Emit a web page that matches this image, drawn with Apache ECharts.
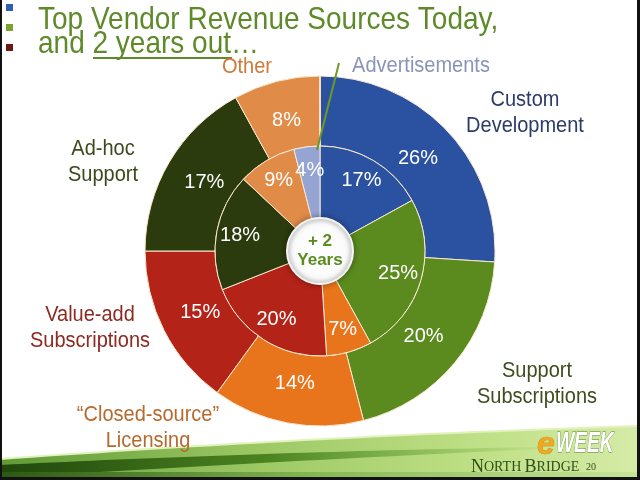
<!DOCTYPE html>
<html>
<head>
<meta charset="utf-8">
<script src="https://cdn.jsdelivr.net/npm/echarts@6/dist/echarts.min.js"></script>
<style>
  html, body { margin: 0; padding: 0; background: #fff; }
  #chart { width: 640px; height: 480px; }
</style>
</head>
<body>
<div id="chart"></div>
<script>
// revenue categories, clockwise from 12 o'clock
const categories = [
  'Custom Development',
  'Support Subscriptions',
  '“Closed-source” Licensing',
  'Value-add Subscriptions',
  'Ad-hoc Support',
  'Other',
  'Advertisements'
]
const todayValues = [26, 20, 14, 15, 17, 8, 0]     // outer ring
const twoYearValues = [17, 25, 7, 20, 18, 9, 4]    // inner ring (+2 years)
const sliceColors = ['#2a52a0', '#5b8b1f', '#e8741b', '#b32318', '#2b3b0d', '#e08c48', '#95a4d2']
const labelColors = ['#2c3b6a', '#3e4e20', '#b66a2e', '#8e2a22', '#3a4a1c', '#d07a3a', '#8a94ba']

const CX = 320
const CY = 251
const font = 'Liberation Sans, Arial, sans-serif'

// move pie labels a bit along the radius
function radialShift(k) {
  return function (params) {
    const r = params.labelRect
    const lx = r.x + r.width / 2
    const ly = r.y + r.height / 2
    return {
      x: CX + (lx - CX) * k,
      y: CY + (ly - CY) * k,
      align: 'center',
      verticalAlign: 'middle'
    }
  }
}

function curvePts(x0, y0, cx, cy, x1, y1, n) {
  const pts = []
  for (let i = 0; i <= n; i++) {
    const t = i / n
    pts.push([
      (1 - t) * (1 - t) * x0 + 2 * (1 - t) * t * cx + t * t * x1,
      (1 - t) * (1 - t) * y0 + 2 * (1 - t) * t * cy + t * t * y1
    ])
  }
  return pts
}

const washTop = curvePts(0, 459, 320, 436, 640, 426, 40)
const stripeTop = curvePts(0, 465, 260, 452, 540, 447, 40)
const stripeBot = curvePts(0, 478, 260, 462, 540, 449, 40).reverse()

// category label placement (slide layout)
const catLabelPos = [
  [525, 101], [537, 372], [148, 416], [90, 316], [103, 150], [247, 67], [421, 66]
]
const catLabelText = [
  'Custom\nDevelopment', 'Support\nSubscriptions', '“Closed-source”\nLicensing',
  'Value-add\nSubscriptions', 'Ad-hoc\nSupport', 'Other', 'Advertisements'
]

function catLabels() {
  return categories.map((name, i) => {
    const text = catLabelText[i]
    const twoLine = text.indexOf('\n') >= 0
    return {
      type: 'text',
      x: catLabelPos[i][0],
      y: catLabelPos[i][1] + (twoLine ? 12 : 0),
      z: 20,
      scaleY: 1.08,
      style: {
        text: text,
        font: '20px ' + font,
        lineHeight: 24,
        fill: labelColors[i],
        align: 'center',
        verticalAlign: 'middle'
      }
    }
  })
}

const chart = echarts.init(document.getElementById('chart'), null, { renderer: 'canvas' })

const option = {
  backgroundColor: '#ffffff',
  animation: false,
  graphic: [
    // bottom swoosh
    {
      type: 'polygon', z: 0,
      shape: { points: washTop.concat([[640, 480], [0, 480]]) },
      style: {
        fill: {
          type: 'linear', x: 0, y: 0, x2: 1, y2: 0,
          colorStops: [
            { offset: 0, color: '#5f9a35' },
            { offset: 0.4, color: '#9cc864' },
            { offset: 0.75, color: '#bfe086' },
            { offset: 1, color: '#d6eba8' }
          ]
        }
      }
    },
    {
      type: 'polyline', z: 1,
      shape: { points: washTop },
      style: { stroke: '#e2f2bd', lineWidth: 2, fill: null }
    },
    {
      type: 'polygon', z: 1,
      shape: { points: stripeTop.concat(stripeBot) },
      style: {
        fill: {
          type: 'linear', x: 0, y: 0, x2: 1, y2: 0,
          colorStops: [
            { offset: 0, color: '#1f470b' },
            { offset: 0.5, color: '#4c8421' },
            { offset: 1, color: 'rgba(120,180,70,0.1)' }
          ]
        }
      }
    },
    {
      type: 'rect', z: 1,
      shape: { x: 0, y: 472, width: 640, height: 5 },
      style: {
        fill: {
          type: 'linear', x: 0, y: 0, x2: 1, y2: 0,
          colorStops: [
            { offset: 0, color: '#2a5812' },
            { offset: 0.5, color: '#86b955' },
            { offset: 1, color: '#c8e49a' }
          ]
        }
      }
    },
    // frame
    { type: 'rect', z: 30, shape: { x: 0, y: 0, width: 2, height: 480 }, style: { fill: '#111' } },
    { type: 'rect', z: 30, shape: { x: 637, y: 0, width: 3, height: 480 }, style: { fill: '#111' } },
    { type: 'rect', z: 30, shape: { x: 0, y: 477, width: 640, height: 3 }, style: { fill: '#111' } },
    // bullets
    { type: 'rect', z: 20, shape: { x: 6, y: 4, width: 7, height: 7 }, style: { fill: '#2f5fb0' } },
    { type: 'rect', z: 20, shape: { x: 6, y: 24, width: 7, height: 7 }, style: { fill: '#7aa32c' } },
    { type: 'rect', z: 20, shape: { x: 6, y: 44, width: 7, height: 7 }, style: { fill: '#6a1a12' } },
    // title
    {
      type: 'text', z: 20, x: 38, y: 20, scaleY: 1.15,
      style: {
        text: 'Top Vendor Revenue Sources Today,',
        font: '28px ' + font, fill: '#5e8a2a', verticalAlign: 'middle'
      }
    },
    {
      type: 'text', z: 20, x: 38, y: 44, scaleY: 1.15,
      style: {
        text: 'and 2 years out…',
        font: '28px ' + font, fill: '#5e8a2a', verticalAlign: 'middle'
      }
    },
    {
      type: 'line', z: 20,
      shape: { x1: 93, y1: 58, x2: 232, y2: 58 },
      style: { stroke: '#5e8a2a', lineWidth: 2 }
    },
    // leader line to Advertisements
    {
      type: 'line', z: 20,
      shape: { x1: 339, y1: 63, x2: 317, y2: 150 },
      style: { stroke: '#6a9a2a', lineWidth: 2 }
    },
    // centre badge
    {
      type: 'circle', z: 20,
      shape: { cx: CX, cy: CY, r: 33 },
      style: {
        fill: {
          type: 'radial', x: 0.5, y: 0.5, r: 0.5,
          colorStops: [
            { offset: 0, color: '#ffffff' },
            { offset: 0.8, color: '#fbfbfb' },
            { offset: 1, color: '#d6d6d6' }
          ]
        },
        stroke: '#f4f4f4', lineWidth: 2,
        shadowBlur: 6, shadowColor: 'rgba(0,0,0,0.35)'
      }
    },
    {
      type: 'text', z: 21, x: CX, y: CY,
      style: {
        text: '+ 2\nYears',
        font: 'bold 17px ' + font, lineHeight: 19,
        fill: '#5b8b1f', align: 'center', verticalAlign: 'middle'
      }
    },
    // logo
    {
      type: 'text', z: 20, x: 537, y: 445,
      style: {
        text: 'e', font: 'italic bold 32px ' + font,
        fill: '#f2a81d', stroke: '#b36b10', lineWidth: 0.6, verticalAlign: 'middle'
      }
    },
    {
      type: 'text', z: 20, x: 556, y: 444, scaleX: 0.64,
      style: {
        text: 'WEEK', font: 'italic bold 30px ' + font,
        fill: '#ffffff', stroke: '#5a7a3a', lineWidth: 0.8, verticalAlign: 'middle'
      }
    },
    {
      type: 'text', z: 20, x: 471, y: 467,
      style: {
        text: '{b|N}{s|ORTH} {b|B}{s|RIDGE}  {n|20}',
        fill: '#2f4f1a',
        verticalAlign: 'middle',
        rich: {
          b: { font: '18px "Liberation Serif", serif', fill: '#2f4f1a' },
          s: { font: '14px "Liberation Serif", serif', fill: '#2f4f1a' },
          n: { font: '10px "Liberation Serif", serif', fill: '#2f4f1a' }
        }
      }
    }
  ].concat(catLabels()),
  series: [
    {
      name: 'Today',
      type: 'pie',
      center: [CX, CY],
      radius: [105, 175],
      startAngle: 90,
      clockwise: true,
      silent: true,
      z: 5,
      itemStyle: { borderColor: '#fbe9cf', borderWidth: 1 },
      label: {
        position: 'inside',
        color: '#fff',
        fontFamily: font,
        fontSize: 20,
        formatter: p => (p.value ? p.value + '%' : '')
      },
      labelLine: { show: false },
      labelLayout: radialShift(0.94),
      data: categories.map((c, i) => ({
        name: c, value: todayValues[i], itemStyle: { color: sliceColors[i] }
      }))
    },
    {
      name: '+2 Years',
      type: 'pie',
      center: [CX, CY],
      radius: [33, 105],
      startAngle: 90,
      clockwise: true,
      silent: true,
      z: 6,
      itemStyle: { borderColor: '#fbe9cf', borderWidth: 1 },
      label: {
        position: 'inside',
        color: '#fff',
        fontFamily: font,
        fontSize: 20,
        formatter: '{c}%'
      },
      labelLine: { show: false },
      labelLayout: radialShift(1.13),
      data: categories.map((c, i) => ({
        name: c, value: twoYearValues[i], itemStyle: { color: sliceColors[i] }
      }))
    }
  ]
}

chart.setOption(option)
</script>
</body>
</html>
